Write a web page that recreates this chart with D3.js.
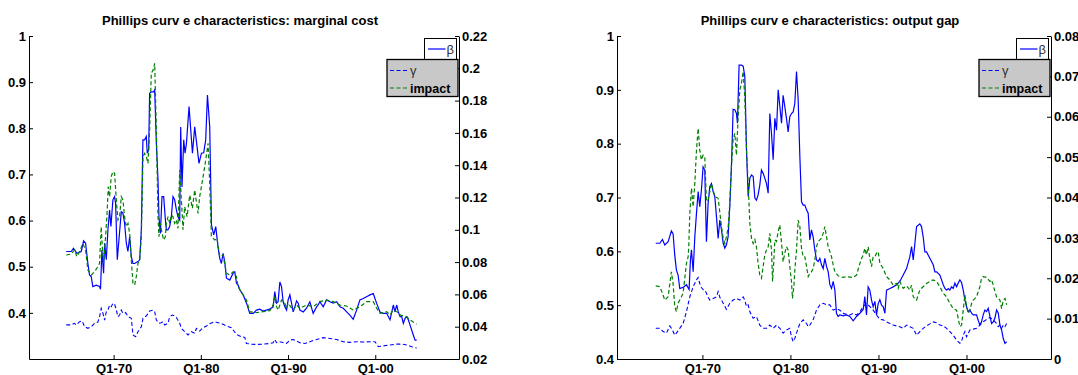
<!DOCTYPE html>
<html>
<head>
<meta charset="utf-8">
<script src="https://cdn.jsdelivr.net/npm/d3@7"></script>
<style>
  body { margin: 0; background: #fff; }
  svg { display: block; }
  text { font-family: "Liberation Sans", Arial, sans-serif; }
</style>
</head>
<body>
<svg width="1078" height="375"></svg>
<script>
// ---- tick labels ----
var xTickYears = [1970, 1980, 1990, 2000];
var xTickLabels = ["Q1-70", "Q1-80", "Q1-90", "Q1-00"];
var mcLeftTicks = [0.4, 0.5, 0.6, 0.7, 0.8, 0.9, 1];
var mcRightTicks = [0.02, 0.04, 0.06, 0.08, 0.1, 0.12, 0.14, 0.16, 0.18, 0.2, 0.22];
var ogLeftTicks = [0.4, 0.5, 0.6, 0.7, 0.8, 0.9, 1];
var ogRightTicks = [0, 0.01, 0.02, 0.03, 0.04, 0.05, 0.06, 0.07, 0.08];
var legendNames = ["\u03b2", "\u03b3", "impact"];

// ---- marginal cost panel: [year, value] ----
var mcBeta = [[1964.57,0.533],[1965.14,0.533],[1965.4,0.540],[1965.79,0.529],[1966.29,0.533],[1966.56,0.556],[1966.79,0.551],[1967.05,0.507],[1967.24,0.482],[1967.44,0.478],[1967.62,0.457],[1968.01,0.460],[1968.39,0.457],[1968.5,0.451],[1968.66,0.536],[1968.85,0.486],[1968.97,0.551],[1969.16,0.515],[1969.35,0.580],[1969.54,0.623],[1969.69,0.587],[1969.92,0.645],[1970.11,0.652],[1970.23,0.637],[1970.42,0.515],[1970.61,0.558],[1970.88,0.619],[1971.07,0.616],[1971.26,0.594],[1971.46,0.551],[1971.64,0.533],[1971.84,0.565],[1972.03,0.522],[1972.22,0.507],[1972.41,0.507],[1972.79,0.511],[1972.99,0.515],[1973.18,0.580],[1973.36,0.775],[1973.56,0.775],[1973.75,0.782],[1973.86,0.746],[1974.02,0.753],[1974.13,0.876],[1974.33,0.879],[1974.59,0.879],[1974.71,0.883],[1974.9,0.767],[1975.09,0.688],[1975.2,0.608],[1975.36,0.572],[1975.55,0.652],[1975.74,0.652],[1975.94,0.601],[1976.05,0.580],[1976.23,0.580],[1976.43,0.587],[1976.62,0.608],[1976.81,0.652],[1977.0,0.645],[1977.2,0.623],[1977.38,0.608],[1977.58,0.601],[1977.69,0.803],[1977.84,0.673],[1978.04,0.775],[1978.19,0.746],[1978.35,0.767],[1978.65,0.847],[1979.04,0.746],[1979.3,0.803],[1979.5,0.771],[1979.79,0.724],[1980.07,0.746],[1980.33,0.747],[1980.56,0.775],[1980.76,0.872],[1981.02,0.803],[1981.22,0.590],[1981.48,0.569],[1981.71,0.587],[1981.97,0.543],[1982.17,0.518],[1982.36,0.507],[1982.55,0.529],[1982.74,0.511],[1982.94,0.475],[1983.32,0.471],[1983.7,0.486],[1983.89,0.489],[1984.09,0.464],[1984.27,0.460],[1984.47,0.450],[1984.85,0.439],[1985.24,0.421],[1985.61,0.399],[1986.0,0.399],[1986.38,0.406],[1986.76,0.408],[1987.14,0.404],[1987.53,0.406],[1987.91,0.408],[1988.29,0.413],[1988.48,0.446],[1988.68,0.421],[1988.86,0.424],[1989.06,0.467],[1989.25,0.457],[1989.44,0.424],[1989.63,0.413],[1989.83,0.406],[1990.01,0.428],[1990.21,0.439],[1990.4,0.421],[1990.59,0.402],[1990.78,0.413],[1990.98,0.426],[1991.16,0.421],[1991.36,0.406],[1991.74,0.402],[1992.12,0.410],[1992.5,0.424],[1992.88,0.399],[1993.27,0.413],[1993.45,0.417],[1993.65,0.424],[1994.03,0.413],[1994.42,0.428],[1994.8,0.424],[1995.18,0.421],[1995.57,0.424],[1995.95,0.413],[1996.33,0.410],[1996.72,0.402],[1997.09,0.395],[1997.47,0.386],[1997.86,0.406],[1998.24,0.428],[1998.62,0.431],[1999.0,0.435],[1999.39,0.439],[1999.77,0.442],[2000.15,0.421],[2000.54,0.402],[2000.92,0.399],[2001.31,0.399],[2001.69,0.385],[2002.07,0.417],[2002.26,0.402],[2002.46,0.417],[2002.64,0.402],[2002.84,0.392],[2003.03,0.392],[2003.22,0.377],[2003.42,0.388],[2003.61,0.392],[2003.79,0.385],[2003.98,0.374],[2004.36,0.352],[2004.56,0.341],[2004.75,0.341]];

var mcGamma = [[1964.57,0.0411],[1965.14,0.0411],[1965.52,0.0421],[1965.71,0.0411],[1966.1,0.0431],[1966.4,0.0435],[1966.67,0.0400],[1967.05,0.0390],[1967.44,0.0400],[1967.82,0.0421],[1968.2,0.0429],[1968.39,0.0462],[1968.58,0.0514],[1968.78,0.0483],[1968.97,0.0441],[1969.16,0.0493],[1969.35,0.0503],[1969.54,0.0534],[1969.73,0.0524],[1969.92,0.0545],[1970.11,0.0541],[1970.31,0.0503],[1970.5,0.0462],[1970.69,0.0472],[1970.88,0.0503],[1971.07,0.0483],[1971.38,0.0487],[1971.65,0.0462],[1972.03,0.0452],[1972.22,0.0349],[1972.53,0.0338],[1972.79,0.0369],[1973.18,0.0400],[1973.37,0.0452],[1973.75,0.0466],[1974.13,0.0497],[1974.52,0.0503],[1974.71,0.0493],[1974.9,0.0441],[1975.2,0.0421],[1975.47,0.0425],[1975.66,0.0431],[1975.86,0.0411],[1976.24,0.0421],[1976.43,0.0462],[1976.74,0.0472],[1977.0,0.0466],[1977.19,0.0458],[1977.58,0.0421],[1977.77,0.0390],[1978.15,0.0369],[1978.53,0.0349],[1978.92,0.0369],[1979.3,0.0359],[1979.49,0.0390],[1979.87,0.0373],[1980.26,0.0394],[1980.64,0.0404],[1981.02,0.0419],[1981.6,0.0431],[1981.98,0.0425],[1982.55,0.0415],[1982.94,0.0404],[1983.51,0.0394],[1984.08,0.0353],[1984.66,0.0338],[1985.04,0.0334],[1985.23,0.0296],[1985.81,0.0292],[1986.38,0.0290],[1987.14,0.0292],[1987.91,0.0296],[1988.29,0.0301],[1988.48,0.0321],[1988.68,0.0301],[1989.06,0.0307],[1989.82,0.0296],[1990.21,0.0317],[1990.59,0.0321],[1991.35,0.0301],[1991.93,0.0296],[1992.5,0.0307],[1993.27,0.0321],[1994.03,0.0332],[1994.8,0.0327],[1995.56,0.0321],[1996.33,0.0307],[1997.1,0.0303],[1997.86,0.0307],[1998.63,0.0305],[1999.39,0.0307],[1999.97,0.0307],[2000.35,0.0276],[2000.92,0.0281],[2001.69,0.0287],[2002.45,0.0292],[2003.03,0.0292],[2003.6,0.0287],[2004.18,0.0276],[2004.75,0.0268]];

var mcImpact = [[1964.57,0.0844],[1965.14,0.0850],[1965.52,0.0875],[1965.79,0.0834],[1966.1,0.0865],[1966.48,0.0916],[1966.79,0.0875],[1967.05,0.0751],[1967.44,0.0720],[1967.82,0.0741],[1968.2,0.0772],[1968.39,0.0792],[1968.58,0.1019],[1968.7,0.0896],[1968.85,0.0792],[1969.08,0.0957],[1969.23,0.1081],[1969.39,0.1267],[1969.54,0.1205],[1969.73,0.1329],[1969.92,0.1360],[1970.11,0.1350],[1970.31,0.1185],[1970.5,0.1061],[1970.69,0.1081],[1970.88,0.1205],[1971.07,0.1185],[1971.26,0.1081],[1971.45,0.1019],[1971.65,0.1040],[1971.84,0.0978],[1972.03,0.0813],[1972.22,0.0669],[1972.41,0.0658],[1972.6,0.0710],[1972.79,0.0792],[1972.99,0.0813],[1973.18,0.0957],[1973.37,0.1453],[1973.56,0.1473],[1973.75,0.1453],[1973.94,0.1412],[1974.13,0.1618],[1974.32,0.1969],[1974.52,0.1989],[1974.71,0.2031],[1974.9,0.1618],[1975.09,0.1081],[1975.2,0.0957],[1975.36,0.1040],[1975.55,0.0978],[1975.74,0.0937],[1975.93,0.0957],[1976.05,0.1040],[1976.24,0.1081],[1976.43,0.1040],[1976.62,0.1092],[1976.81,0.1081],[1977.0,0.1040],[1977.19,0.1061],[1977.38,0.1009],[1977.58,0.1370],[1977.96,0.1000],[1978.15,0.1143],[1978.42,0.1081],[1978.73,0.1215],[1979.03,0.1133],[1979.3,0.1246],[1979.68,0.1102],[1979.87,0.1205],[1980.26,0.1329],[1980.56,0.1432],[1980.83,0.1535],[1981.02,0.1288],[1981.21,0.0957],[1981.6,0.0937],[1981.86,0.0947],[1982.17,0.0834],[1982.55,0.0844],[1982.94,0.0730],[1983.32,0.0720],[1983.7,0.0740],[1984.08,0.0710],[1984.27,0.0648],[1984.85,0.0596],[1985.23,0.0565],[1985.61,0.0493],[1986.38,0.0487],[1987.14,0.0493],[1987.91,0.0499],[1988.29,0.0534],[1988.48,0.0586],[1988.68,0.0524],[1988.87,0.0503],[1989.25,0.0565],[1989.63,0.0545],[1989.82,0.0514],[1990.02,0.0545],[1990.59,0.0503],[1990.97,0.0534],[1991.35,0.0514],[1992.12,0.0534],[1992.89,0.0524],[1993.65,0.0555],[1994.42,0.0565],[1995.18,0.0555],[1995.95,0.0534],[1996.71,0.0528],[1997.48,0.0503],[1998.24,0.0524],[1999.01,0.0555],[1999.77,0.0555],[2000.16,0.0514],[2000.54,0.0483],[2001.31,0.0493],[2001.69,0.0473],[2002.07,0.0503],[2002.45,0.0493],[2002.84,0.0473],[2003.6,0.0462],[2003.98,0.0442],[2004.56,0.0421],[2004.75,0.0417]];

// ---- output gap panel: [year, value] ----
var ogBeta = [[1964.70,0.615],[1965.16,0.615],[1965.46,0.622],[1965.73,0.612],[1966.11,0.618],[1966.48,0.638],[1966.67,0.633],[1966.86,0.593],[1967.05,0.565],[1967.24,0.556],[1967.43,0.531],[1967.81,0.533],[1968.19,0.538],[1968.49,0.529],[1968.64,0.584],[1968.76,0.603],[1968.95,0.562],[1969.14,0.627],[1969.33,0.671],[1969.52,0.711],[1969.7,0.683],[1969.89,0.714],[1970.08,0.757],[1970.27,0.751],[1970.46,0.618],[1970.65,0.689],[1970.84,0.720],[1971.03,0.726],[1971.22,0.711],[1971.41,0.702],[1971.6,0.664],[1971.79,0.624],[1971.98,0.658],[1972.17,0.640],[1972.36,0.615],[1972.55,0.606],[1972.73,0.612],[1972.92,0.627],[1973.11,0.683],[1973.3,0.757],[1973.49,0.864],[1973.68,0.863],[1973.87,0.856],[1973.98,0.838],[1974.17,0.946],[1974.44,0.946],[1974.63,0.944],[1974.82,0.925],[1975.01,0.788],[1975.2,0.702],[1975.39,0.736],[1975.58,0.742],[1975.77,0.739],[1975.96,0.699],[1976.14,0.695],[1976.33,0.705],[1976.52,0.723],[1976.71,0.751],[1976.9,0.745],[1977.09,0.736],[1977.28,0.726],[1977.47,0.708],[1977.66,0.856],[1977.85,0.819],[1978.04,0.770],[1978.23,0.847],[1978.42,0.825],[1978.61,0.900],[1978.8,0.869],[1978.99,0.838],[1979.17,0.890],[1979.36,0.869],[1979.55,0.847],[1979.74,0.822],[1979.93,0.850],[1980.12,0.856],[1980.31,0.859],[1980.5,0.875],[1980.69,0.934],[1980.88,0.881],[1981.07,0.776],[1981.26,0.692],[1981.45,0.686],[1981.64,0.686],[1981.83,0.677],[1982.02,0.671],[1982.2,0.621],[1982.39,0.640],[1982.58,0.627],[1982.77,0.603],[1982.96,0.584],[1983.15,0.581],[1983.34,0.587],[1983.53,0.575],[1983.72,0.568],[1983.91,0.587],[1984.1,0.572],[1984.29,0.562],[1984.48,0.538],[1984.67,0.531],[1984.86,0.544],[1985.05,0.528],[1985.23,0.485],[1985.42,0.479],[1985.61,0.482],[1985.99,0.480],[1986.37,0.482],[1986.75,0.479],[1987.13,0.471],[1987.51,0.479],[1987.89,0.485],[1988.27,0.492],[1988.45,0.516],[1988.64,0.482],[1988.83,0.534],[1989.02,0.528],[1989.21,0.510],[1989.4,0.497],[1989.59,0.507],[1989.78,0.482],[1989.97,0.503],[1990.16,0.510],[1990.35,0.500],[1990.54,0.497],[1990.73,0.485],[1990.92,0.528],[1991.3,0.531],[1991.67,0.534],[1992.05,0.538],[1992.43,0.544],[1992.81,0.556],[1993.19,0.568],[1993.57,0.590],[1993.76,0.609],[1993.95,0.584],[1994.14,0.615],[1994.33,0.646],[1994.7,0.651],[1994.89,0.646],[1995.08,0.627],[1995.27,0.599],[1995.46,0.599],[1995.84,0.587],[1996.22,0.575],[1996.41,0.562],[1996.6,0.562],[1996.98,0.556],[1997.17,0.547],[1997.36,0.538],[1997.55,0.531],[1997.74,0.528],[1997.93,0.531],[1998.11,0.528],[1998.3,0.534],[1998.49,0.531],[1998.68,0.541],[1998.87,0.534],[1999.06,0.541],[1999.25,0.547],[1999.44,0.542],[1999.63,0.528],[1999.82,0.510],[2000.01,0.497],[2000.2,0.488],[2000.39,0.491],[2000.58,0.485],[2000.77,0.482],[2001.14,0.482],[2001.33,0.472],[2001.52,0.463],[2001.71,0.469],[2001.9,0.482],[2002.09,0.491],[2002.28,0.488],[2002.47,0.494],[2002.66,0.479],[2002.85,0.466],[2003.04,0.469],[2003.23,0.476],[2003.42,0.491],[2003.61,0.485],[2003.8,0.463],[2003.99,0.454],[2004.18,0.438],[2004.37,0.429],[2004.56,0.432]];

var ogGamma = [[1964.70,0.0076],[1965.16,0.0076],[1965.54,0.0068],[1965.92,0.0064],[1966.3,0.0082],[1966.48,0.0076],[1966.67,0.0068],[1966.86,0.0059],[1967.05,0.0064],[1967.43,0.0076],[1967.81,0.0088],[1968.19,0.0117],[1968.57,0.0154],[1968.95,0.0179],[1969.33,0.0196],[1969.52,0.0202],[1969.7,0.0187],[1969.89,0.0177],[1970.08,0.0172],[1970.27,0.0171],[1970.46,0.0163],[1970.65,0.0153],[1970.84,0.0146],[1971.22,0.0150],[1971.6,0.0154],[1971.79,0.0167],[1971.98,0.0153],[1972.36,0.0138],[1972.73,0.0123],[1973.11,0.0138],[1973.49,0.0146],[1973.87,0.0150],[1974.25,0.0146],[1974.63,0.0154],[1974.82,0.0146],[1975.01,0.0130],[1975.2,0.0134],[1975.39,0.0117],[1975.77,0.0101],[1976.14,0.0105],[1976.52,0.0084],[1976.9,0.0076],[1977.28,0.0076],[1977.66,0.0084],[1978.04,0.0076],[1978.42,0.0084],[1978.8,0.0076],[1979.17,0.0064],[1979.55,0.0072],[1979.93,0.0076],[1980.12,0.0055],[1980.31,0.0043],[1980.5,0.0051],[1980.69,0.0064],[1981.07,0.0088],[1981.45,0.0097],[1981.83,0.0088],[1982.02,0.0080],[1982.2,0.0084],[1982.58,0.0097],[1982.96,0.0121],[1983.34,0.0134],[1983.72,0.0138],[1984.1,0.0134],[1984.48,0.0134],[1984.86,0.0121],[1985.23,0.0125],[1985.61,0.0121],[1985.99,0.0113],[1986.37,0.0111],[1986.75,0.0109],[1987.13,0.0113],[1987.51,0.0109],[1987.89,0.0117],[1988.27,0.0130],[1988.64,0.0138],[1989.02,0.0130],[1989.4,0.0121],[1989.78,0.0109],[1990.16,0.0098],[1990.54,0.0097],[1990.92,0.0092],[1991.3,0.0088],[1991.67,0.0084],[1992.05,0.0082],[1992.43,0.0080],[1992.81,0.0076],[1993.19,0.0084],[1993.57,0.0080],[1993.95,0.0076],[1994.33,0.0059],[1994.7,0.0068],[1995.08,0.0076],[1995.46,0.0082],[1995.84,0.0087],[1996.22,0.0092],[1996.6,0.0090],[1996.98,0.0084],[1997.36,0.0082],[1997.74,0.0076],[1998.11,0.0068],[1998.49,0.0059],[1998.87,0.0047],[1999.25,0.0039],[1999.44,0.0043],[1999.63,0.0059],[1999.82,0.0068],[2000.01,0.0055],[2000.2,0.0064],[2000.39,0.0072],[2000.77,0.0074],[2001.14,0.0076],[2001.52,0.0084],[2001.9,0.0092],[2002.28,0.0098],[2002.66,0.0103],[2003.04,0.0097],[2003.42,0.0088],[2003.61,0.0080],[2003.8,0.0084],[2003.99,0.0076],[2004.18,0.0084],[2004.37,0.0080],[2004.56,0.0088]];

var ogImpact = [[1964.70,0.0181],[1965.16,0.0179],[1965.46,0.0163],[1965.73,0.0146],[1966.11,0.0154],[1966.48,0.0216],[1966.67,0.0187],[1966.86,0.0130],[1967.05,0.0117],[1967.24,0.0138],[1967.43,0.0146],[1967.62,0.0154],[1967.81,0.0163],[1968.19,0.0237],[1968.38,0.0253],[1968.45,0.0278],[1968.57,0.0361],[1968.76,0.0423],[1968.95,0.0377],[1969.14,0.0435],[1969.33,0.0518],[1969.52,0.0571],[1969.7,0.0518],[1969.89,0.0493],[1970.08,0.0505],[1970.27,0.0501],[1970.46,0.0390],[1970.65,0.0394],[1971.03,0.0435],[1971.41,0.0402],[1971.79,0.0398],[1972.17,0.0328],[1972.36,0.0299],[1972.55,0.0286],[1972.73,0.0303],[1972.92,0.0324],[1973.11,0.0386],[1973.3,0.0477],[1973.49,0.0543],[1973.68,0.0559],[1973.87,0.0505],[1974.06,0.0600],[1974.25,0.0666],[1974.44,0.0683],[1974.63,0.0712],[1974.82,0.0646],[1975.01,0.0518],[1975.2,0.0435],[1975.39,0.0336],[1975.58,0.0299],[1975.77,0.0286],[1975.96,0.0296],[1976.14,0.0278],[1976.33,0.0237],[1976.52,0.0208],[1976.71,0.0200],[1976.9,0.0229],[1977.09,0.0258],[1977.28,0.0270],[1977.47,0.0278],[1977.66,0.0311],[1977.85,0.0270],[1977.97,0.0192],[1978.12,0.0245],[1978.23,0.0295],[1978.42,0.0291],[1978.61,0.0316],[1978.8,0.0332],[1978.99,0.0287],[1979.17,0.0241],[1979.36,0.0262],[1979.55,0.0278],[1979.74,0.0270],[1979.93,0.0229],[1980.12,0.0192],[1980.23,0.0150],[1980.39,0.0179],[1980.5,0.0220],[1980.69,0.0270],[1980.88,0.0344],[1981.07,0.0328],[1981.26,0.0274],[1981.45,0.0253],[1981.64,0.0253],[1981.83,0.0229],[1982.02,0.0204],[1982.2,0.0212],[1982.39,0.0216],[1982.58,0.0224],[1982.77,0.0245],[1982.96,0.0278],[1983.15,0.0291],[1983.34,0.0295],[1983.53,0.0299],[1983.72,0.0311],[1983.91,0.0328],[1984.1,0.0303],[1984.29,0.0278],[1984.48,0.0266],[1984.67,0.0253],[1984.86,0.0233],[1985.05,0.0216],[1985.42,0.0206],[1985.99,0.0202],[1986.37,0.0204],[1987.13,0.0202],[1987.51,0.0208],[1987.89,0.0237],[1988.08,0.0249],[1988.27,0.0258],[1988.45,0.0274],[1988.64,0.0258],[1988.83,0.0278],[1989.02,0.0249],[1989.21,0.0229],[1989.4,0.0253],[1989.59,0.0253],[1989.78,0.0262],[1989.97,0.0266],[1990.16,0.0237],[1990.54,0.0224],[1990.92,0.0204],[1991.3,0.0196],[1991.67,0.0183],[1992.05,0.0187],[1992.24,0.0175],[1992.43,0.0192],[1992.62,0.0183],[1992.81,0.0175],[1993.19,0.0181],[1993.57,0.0171],[1993.76,0.0183],[1993.95,0.0154],[1994.33,0.0146],[1994.7,0.0171],[1995.08,0.0179],[1995.46,0.0187],[1995.84,0.0192],[1996.22,0.0196],[1996.6,0.0192],[1996.98,0.0179],[1997.36,0.0163],[1997.74,0.0154],[1998.11,0.0138],[1998.49,0.0125],[1998.87,0.0121],[1999.25,0.0080],[1999.44,0.0084],[1999.63,0.0121],[1999.82,0.0159],[2000.01,0.0130],[2000.2,0.0113],[2000.39,0.0121],[2000.58,0.0138],[2000.77,0.0146],[2001.14,0.0154],[2001.52,0.0179],[2001.71,0.0200],[2001.9,0.0204],[2002.28,0.0202],[2002.66,0.0192],[2002.85,0.0196],[2003.04,0.0183],[2003.23,0.0167],[2003.42,0.0154],[2003.8,0.0146],[2003.99,0.0125],[2004.18,0.0146],[2004.37,0.0150],[2004.56,0.0134]];

var svg = d3.select("svg");
var fmt = function(d) { return String(+d.toFixed(2)); };

function drawPanel(p) {
  var x = d3.scaleLinear().domain([1960.3, 2009.6]).range([p.left, p.right]);
  var yL = d3.scaleLinear().domain(p.leftDomain).range([p.bottom, p.top]);
  var yR = d3.scaleLinear().domain(p.rightDomain).range([p.bottom, p.top]);

  var g = svg.append("g");

  // title
  g.append("text")
    .attr("x", (p.left + p.right) / 2 - 4)
    .attr("y", 25)
    .attr("text-anchor", "middle")
    .attr("font-size", "13px")
    .attr("font-weight", "bold")
    .text(p.title);

  // series
  var lineL = d3.line().x(d => x(d[0])).y(d => yL(d[1]));
  var lineR = d3.line().x(d => x(d[0])).y(d => yR(d[1]));

  g.append("path").datum(p.beta)
    .attr("d", lineL).attr("fill", "none")
    .attr("stroke", "#0000ff").attr("stroke-width", 1.2);
  g.append("path").datum(p.gamma)
    .attr("d", lineR).attr("fill", "none")
    .attr("stroke", "#0000ff").attr("stroke-width", 1.1)
    .attr("stroke-dasharray", "4,2.5");
  g.append("path").datum(p.impact)
    .attr("d", lineR).attr("fill", "none")
    .attr("stroke", "#008000").attr("stroke-width", 1.2)
    .attr("stroke-dasharray", "4,2.5");

  // axes (ticks inward, as in the original)
  var ax = g.append("g").attr("transform", "translate(0," + Math.floor(p.bottom) + ")")
    .call(d3.axisBottom(x).tickValues(xTickYears)
      .tickFormat((d, i) => xTickLabels[i])
      .tickSizeInner(-4).tickSizeOuter(0).tickPadding(5));
  var al = g.append("g").attr("transform", "translate(" + Math.floor(p.left) + ",0)")
    .call(d3.axisLeft(yL).tickValues(p.leftTicks).tickFormat(fmt)
      .tickSizeInner(-4).tickSizeOuter(0).tickPadding(3));
  var ar = g.append("g").attr("transform", "translate(" + Math.floor(p.right) + ",0)")
    .call(d3.axisRight(yR).tickValues(p.rightTicks).tickFormat(fmt)
      .tickSizeInner(-4).tickSizeOuter(0).tickPadding(3));

  [ax, al, ar].forEach(function(a) {
    a.selectAll("text")
      .attr("font-size", "13px")
      .attr("font-weight", "bold")
      .attr("fill", "#000")
      .style("font-family", '"Liberation Sans", Arial, sans-serif');
    a.selectAll("path, line").attr("stroke", "#000");
  });

  // legend for beta (first axes)
  var bx = p.right - 34.5;
  g.append("rect").attr("x", bx).attr("y", 38.5).attr("width", 32).attr("height", 21)
    .attr("fill", "#fff").attr("stroke", "#000");
  g.append("line").attr("x1", bx + 3.5).attr("x2", bx + 21).attr("y1", 49).attr("y2", 49)
    .attr("stroke", "#0000ff").attr("stroke-width", 1.2);
  g.append("text").attr("x", bx + 22).attr("y", 53.5)
    .attr("font-size", "13px").attr("fill", "#333").text(legendNames[0]);

  // legend for gamma and impact (second axes)
  var gx = p.right - 72;
  g.append("rect").attr("x", gx).attr("y", 59.5).attr("width", 71).attr("height", 37)
    .attr("fill", "#c8c8c8").attr("stroke", "#000").attr("stroke-width", 1.3);
  g.append("line").attr("x1", gx + 3).attr("x2", gx + 22).attr("y1", 70.5).attr("y2", 70.5)
    .attr("stroke", "#0000ff").attr("stroke-width", 1.1).attr("stroke-dasharray", "4,2.5");
  g.append("text").attr("x", gx + 23).attr("y", 74.5)
    .attr("font-size", "13px").attr("fill", "#333").text(legendNames[1]);
  g.append("line").attr("x1", gx + 3).attr("x2", gx + 22).attr("y1", 88).attr("y2", 88)
    .attr("stroke", "#008000").attr("stroke-width", 1.2).attr("stroke-dasharray", "4,2.5");
  g.append("text").attr("x", gx + 23).attr("y", 92.5)
    .attr("font-size", "12.5px").attr("font-weight", "bold").attr("fill", "#000").text(legendNames[2]);
}

drawPanel({
  title: "Phillips curv e characteristics: marginal cost",
  left: 29, right: 459, top: 36, bottom: 359,
  leftDomain: [0.3, 1], leftTicks: mcLeftTicks,
  rightDomain: [0.02, 0.22], rightTicks: mcRightTicks,
  beta: mcBeta, gamma: mcGamma, impact: mcImpact
});

drawPanel({
  title: "Phillips curv e characteristics: output gap",
  left: 617, right: 1051, top: 36, bottom: 359,
  leftDomain: [0.4, 1], leftTicks: ogLeftTicks,
  rightDomain: [0, 0.08], rightTicks: ogRightTicks,
  beta: ogBeta, gamma: ogGamma, impact: ogImpact
});
</script>
</body>
</html>
